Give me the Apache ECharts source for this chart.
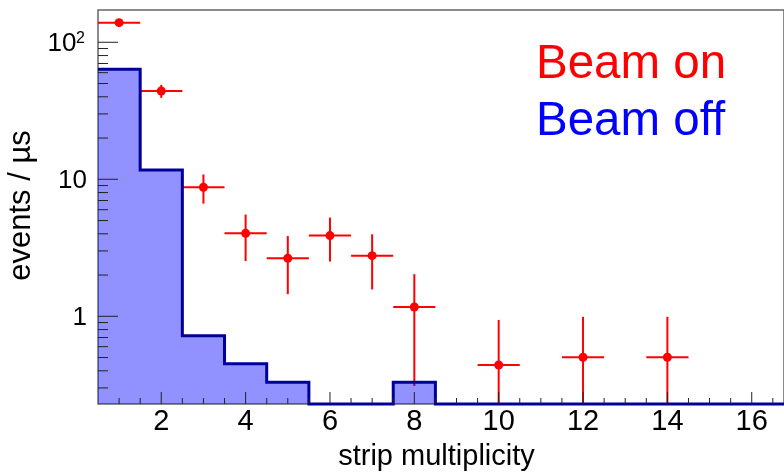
<!DOCTYPE html>
<html>
<head>
<meta charset="utf-8">
<title>strip multiplicity</title>
<script src="https://cdn.jsdelivr.net/npm/echarts@6/dist/echarts.min.js"></script>
<style>
  html, body { margin: 0; padding: 0; background: #ffffff; }
  #chart { width: 784px; height: 476px; }
</style>
</head>
<body>
<div id="chart"></div>
<script>
// Beam on: rate per multiplicity with symmetric errors
const onX = [1, 2, 3, 4, 5, 6, 7, 8, 10, 12, 14];
const onY = [139, 44.1, 8.74, 4.03, 2.65, 3.88, 2.77, 1.17, 0.441, 0.502, 0.502];
const onErr = [7, 4.8, 2.1, 1.5, 1.2, 1.37, 1.2, 0.86, 0.5, 0.49, 0.49];

// Beam off: histogram bin centres (unit width) and contents
const offX = [1, 2, 3, 4, 5, 6, 7, 8, 9, 10, 11, 12, 13, 14, 15, 16, 17];
const offY = [63.5, 11.7, 0.72, 0.45, 0.33, 0, 0, 0.33, 0, 0, 0, 0, 0, 0, 0, 0, 0];

// Axis ticks and labels
const xMajorTicks = [2, 4, 6, 8, 10, 12, 14, 16];
const xTickLabels = ['2', '4', '6', '8', '10', '12', '14', '16'];
const yMajorTicks = [1, 10, 100];
const yTickLabels = ['1', '10', '10'];
const yTickExponents = ['', '', '2'];

const xTitle = 'strip multiplicity';
const yTitle = 'events / \u00b5s';
const legendOn = 'Beam on';
const legendOff = 'Beam off';

// Axis ranges
const X_MIN = 0.5, X_MAX = 16.765;
const Y_MIN = 0.229, Y_MAX = 172;

const FONT = '"Liberation Sans", Arial, Helvetica, sans-serif';
const RED = '#ff0000';
const NAVY = '#000099';
const TICK = '#222222';

// tick marks: every 0.5 on x, 2..9 x 10^k on y
const xTickData = [];
for (let v = 1; v < X_MAX; v += 0.5) {
  const idx = xMajorTicks.indexOf(v);
  xTickData.push([v, Y_MIN, idx >= 0 ? 1 : 0, idx]);
}
const yTickData = [];
for (let d = 0.1; d <= 100; d *= 10) {
  for (let m = 1; m <= 9; m++) {
    const v = +(m * d).toPrecision(3);
    if (v < Y_MIN || v > Y_MAX) continue;
    const idx = yMajorTicks.indexOf(v);
    yTickData.push([X_MIN, v, idx >= 0 ? 1 : 0, idx]);
  }
}

// histogram outline: left edge of every bin, then right edge of the last one
const floorOf = v => (v > 0 ? v : Y_MIN);
const offLine = offX.map((c, i) => [c - 0.5, floorOf(offY[i])]);
offLine.push([offX[offX.length - 1] + 0.5, floorOf(offY[offY.length - 1])]);

const onData = onX.map((x, i) => [x, onY[i], onErr[i]]);

const chart = echarts.init(document.getElementById('chart'), null, { renderer: 'canvas' });

chart.setOption({
  animation: false,
  backgroundColor: '#ffffff',
  grid: {
    left: 98, width: 688, top: 10, bottom: 72,
    show: true, borderColor: '#666666', borderWidth: 1.5,
    backgroundColor: 'transparent'
  },
  xAxis: {
    type: 'value', min: X_MIN, max: X_MAX,
    axisLine: { show: false }, axisTick: { show: false },
    axisLabel: { show: false }, splitLine: { show: false }
  },
  yAxis: {
    type: 'log', logBase: 10, min: Y_MIN, max: Y_MAX,
    axisLine: { show: false }, axisTick: { show: false },
    axisLabel: { show: false }, splitLine: { show: false }
  },
  graphic: [
    {
      type: 'text', x: 436.5, y: 457,
      style: { text: xTitle, fill: '#000', fontSize: 29, fontFamily: FONT, align: 'center', verticalAlign: 'middle' }
    },
    {
      type: 'text', x: 21.6, y: 205.5, rotation: Math.PI / 2,
      style: { text: yTitle, fill: '#000', fontSize: 31, fontFamily: FONT, align: 'center', verticalAlign: 'middle' }
    },
    {
      type: 'text', x: 536, y: 65.4,
      style: { text: legendOn, fill: RED, fontSize: 47.5, fontFamily: FONT, align: 'left', verticalAlign: 'middle' }
    },
    {
      type: 'text', x: 536, y: 122,
      style: { text: legendOff, fill: '#0000ff', fontSize: 47.5, fontFamily: FONT, align: 'left', verticalAlign: 'middle' }
    }
  ],
  series: [
    {
      // Beam on points with error bars
      type: 'custom',
      z: 2,
      data: onData,
      renderItem(params, api) {
        const x = api.value(0), y = api.value(1), e = api.value(2);
        const c = api.coord([x, y]);
        const l = api.coord([Math.max(x - 0.5, X_MIN), y]);
        const r = api.coord([x + 0.5, y]);
        const t = api.coord([x, Math.min(y + e, Y_MAX)]);
        const b = api.coord([x, Math.max(y - e, Y_MIN)]);
        return {
          type: 'group',
          children: [
            { type: 'line', shape: { x1: l[0], y1: c[1], x2: r[0], y2: c[1] }, style: { stroke: RED, lineWidth: 2 } },
            { type: 'line', shape: { x1: c[0], y1: t[1], x2: c[0], y2: b[1] }, style: { stroke: RED, lineWidth: 2 } },
            { type: 'circle', shape: { cx: c[0], cy: c[1], r: 4.5 }, style: { fill: RED } }
          ]
        };
      }
    },
    {
      // Beam off histogram
      type: 'line',
      z: 3,
      data: offLine,
      step: 'end',
      symbol: 'none',
      clip: false,
      lineStyle: { color: NAVY, width: 3, join: 'miter', cap: 'butt' },
      areaStyle: { color: 'rgba(0,0,255,0.43)', origin: 'start', opacity: 1 }
    },
    {
      // x ticks and labels
      type: 'custom',
      z: 4,
      data: xTickData,
      renderItem(params, api) {
        const x = api.value(0), major = api.value(2), idx = api.value(3);
        const p = api.coord([x, Y_MIN]);
        const len = major ? 12 : 6;
        const children = [
          { type: 'line', shape: { x1: p[0], y1: p[1], x2: p[0], y2: p[1] - len }, style: { stroke: TICK, lineWidth: 1 } }
        ];
        if (major) {
          children.push({
            type: 'text', x: p[0], y: 422,
            style: { text: xTickLabels[idx], fill: '#000', fontSize: 29, fontFamily: FONT, align: 'center', verticalAlign: 'middle' }
          });
        }
        return { type: 'group', children };
      }
    },
    {
      // y ticks and labels
      type: 'custom',
      z: 4,
      data: yTickData,
      renderItem(params, api) {
        const v = api.value(1), major = api.value(2), idx = api.value(3);
        const p = api.coord([X_MIN, v]);
        const len = major ? 20 : 10;
        const children = [
          { type: 'line', shape: { x1: p[0], y1: p[1], x2: p[0] + len, y2: p[1] }, style: { stroke: TICK, lineWidth: 1 } }
        ];
        if (major) {
          const exp = yTickExponents[idx];
          const right = exp ? 76.5 : 87;
          children.push({
            type: 'text', x: right, y: p[1] + 2,
            style: { text: yTickLabels[idx], fill: '#000', fontSize: 26, fontFamily: FONT, align: 'right', verticalAlign: 'middle' }
          });
          if (exp) {
            children.push({
              type: 'text', x: 76, y: p[1] - 4,
              style: { text: exp, fill: '#000', fontSize: 16, fontFamily: FONT, align: 'left', verticalAlign: 'middle' }
            });
          }
        }
        return { type: 'group', children };
      }
    }
  ]
});
</script>
</body>
</html>
